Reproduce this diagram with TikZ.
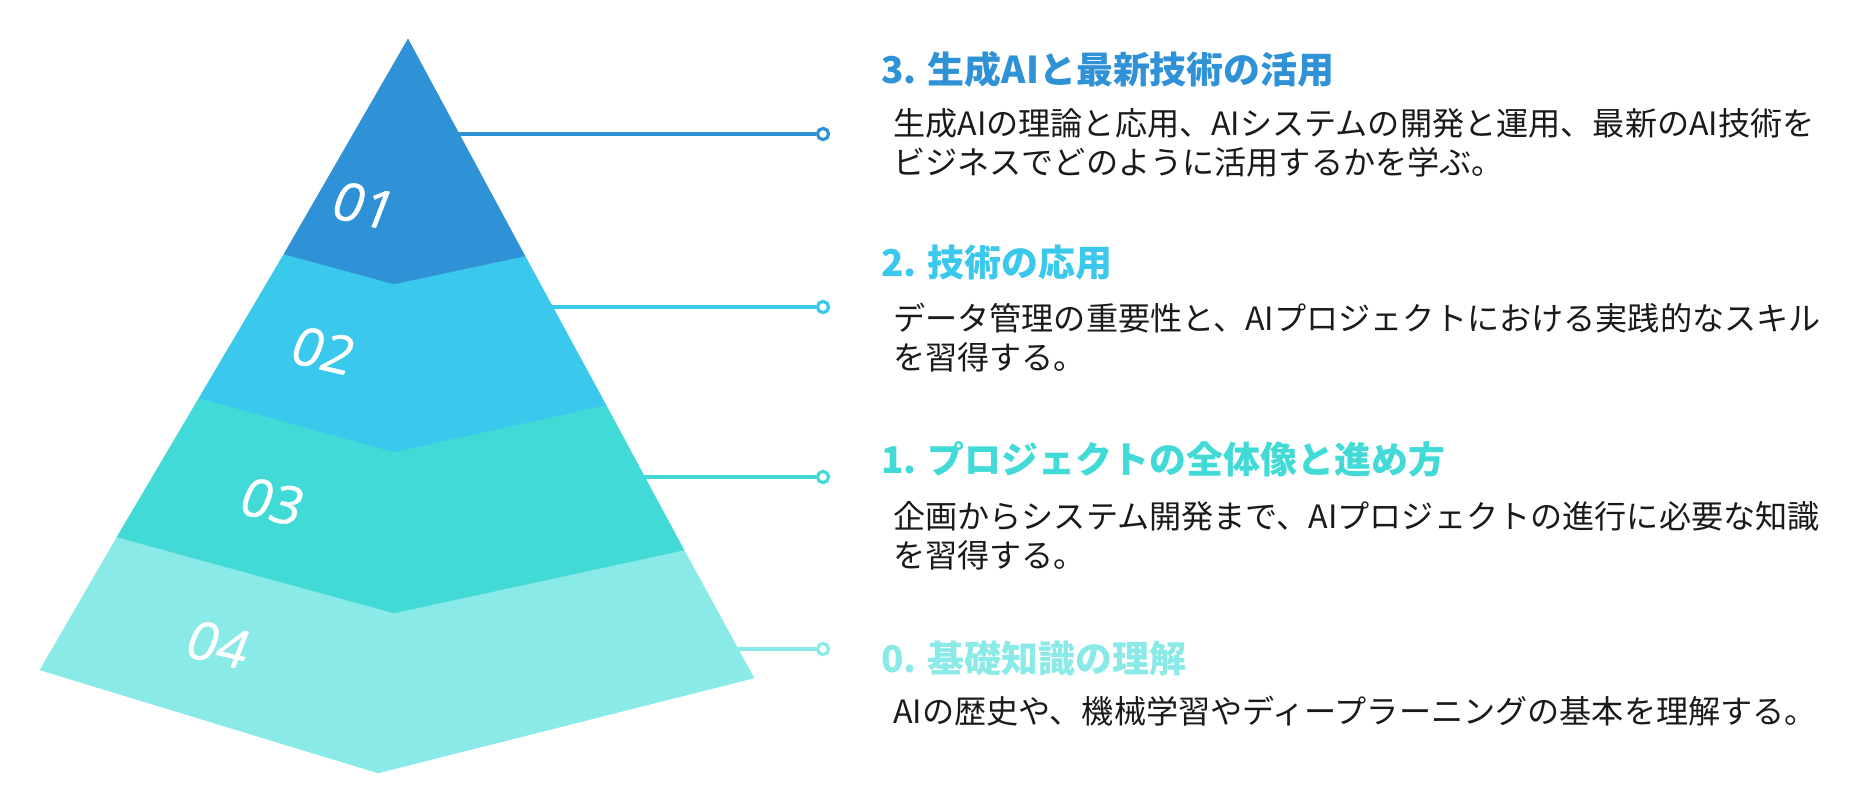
\documentclass[tikz,border=0pt]{standalone}
\usepackage{fontspec}
\setmainfont{Noto Sans CJK JP}
\newfontfamily\numfont{Open Sans}[FakeSlant=0.14,FakeBold=0.8]
\definecolor{c1}{HTML}{2F91D6}
\definecolor{c2}{HTML}{3AC8EC}
\definecolor{c3}{HTML}{42DAD7}
\definecolor{c4}{HTML}{89EAE8}
\definecolor{ink}{HTML}{1A1A1A}
\tikzset{
  tier/.style={fill=#1, draw=#1, line width=0.3pt, line join=round},
  link/.style={draw=#1, line width=2.5pt},
  knob/.style={circle, draw=#1, fill=white, line width=2.4pt, minimum size=8.4pt, inner sep=0pt},
  num/.style={text=white, font=\numfont\fontsize{40}{40}\selectfont, rotate=-13, inner sep=0pt},
  ttl/.style={text=#1, font=\bfseries\fontsize{27.7}{32}\selectfont, anchor=base west, inner sep=0pt},
  body/.style={text=ink, font=\fontsize{24.1}{29}\selectfont, anchor=base west, inner sep=0pt}
}
\begin{document}
\begin{tikzpicture}[x=0.75pt,y=-0.75pt]
\useasboundingbox (0,0) rectangle (1864,786);
% connector start points inside the pyramid
\coordinate (e1) at (440,134);
\coordinate (e2) at (530,307);
\coordinate (e3) at (620,477);
\coordinate (e4) at (720,649);
\node[knob=c1] (k1) at (823,134) {};
\node[knob=c2] (k2) at (823,307) {};
\node[knob=c3] (k3) at (823,477) {};
\node[knob=c4] (k4) at (823,649) {};
\draw[link=c1] (e1) -- (k1.west);
\draw[link=c2] (e2) -- (k2.west);
\draw[link=c3] (e3) -- (k3.west);
\draw[link=c4] (e4) -- (k4.west);
% pyramid
\path[tier=c4] (117,537) -- (394,613) -- (684,550) -- (754,678) -- (378,773) -- (40,670) -- cycle;
\path[tier=c3] (199,398) -- (394,452) -- (606,405) -- (684,550) -- (394,613) -- (117,537) -- cycle;
\path[tier=c2] (284,254) -- (394,284) -- (525,256) -- (606,405) -- (394,452) -- (199,398) -- cycle;
\path[tier=c1] (408,39) -- (525,256) -- (394,284) -- (284,254) -- cycle;
\node[num] (n1) at (362,205) {01};
\node[num] (n2) at (321,350) {02};
\node[num] (n3) at (270,501) {03};
\node[num] (n4) at (216,644) {04};
% texts
\node[ttl=c1] (t3) at (881,83) {3. 生成AIと最新技術の活用};
\node[body] (b3a) at (893,135) {生成AIの理論と応用、AIシステムの開発と運用、最新のAI技術を};
\node[body] (b3b) at (893,174) {ビジネスでどのように活用するかを学ぶ。};
\node[ttl=c2] (t2) at (881,276) {2. 技術の応用};
\node[body] (b2a) at (893,330) {データ管理の重要性と、AIプロジェクトにおける実践的なスキル};
\node[body] (b2b) at (893,369) {を習得する。};
\node[ttl=c3] (t1) at (881,473) {1. プロジェクトの全体像と進め方};
\node[body] (b1a) at (893,528) {企画からシステム開発まで、AIプロジェクトの進行に必要な知識};
\node[body] (b1b) at (893,567) {を習得する。};
\node[ttl=c4] (t0) at (881,672) {0. 基礎知識の理解};
\node[body] (b0a) at (893,723) {AIの歴史や、機械学習やディープラーニングの基本を理解する。};
\end{tikzpicture}
\end{document}
